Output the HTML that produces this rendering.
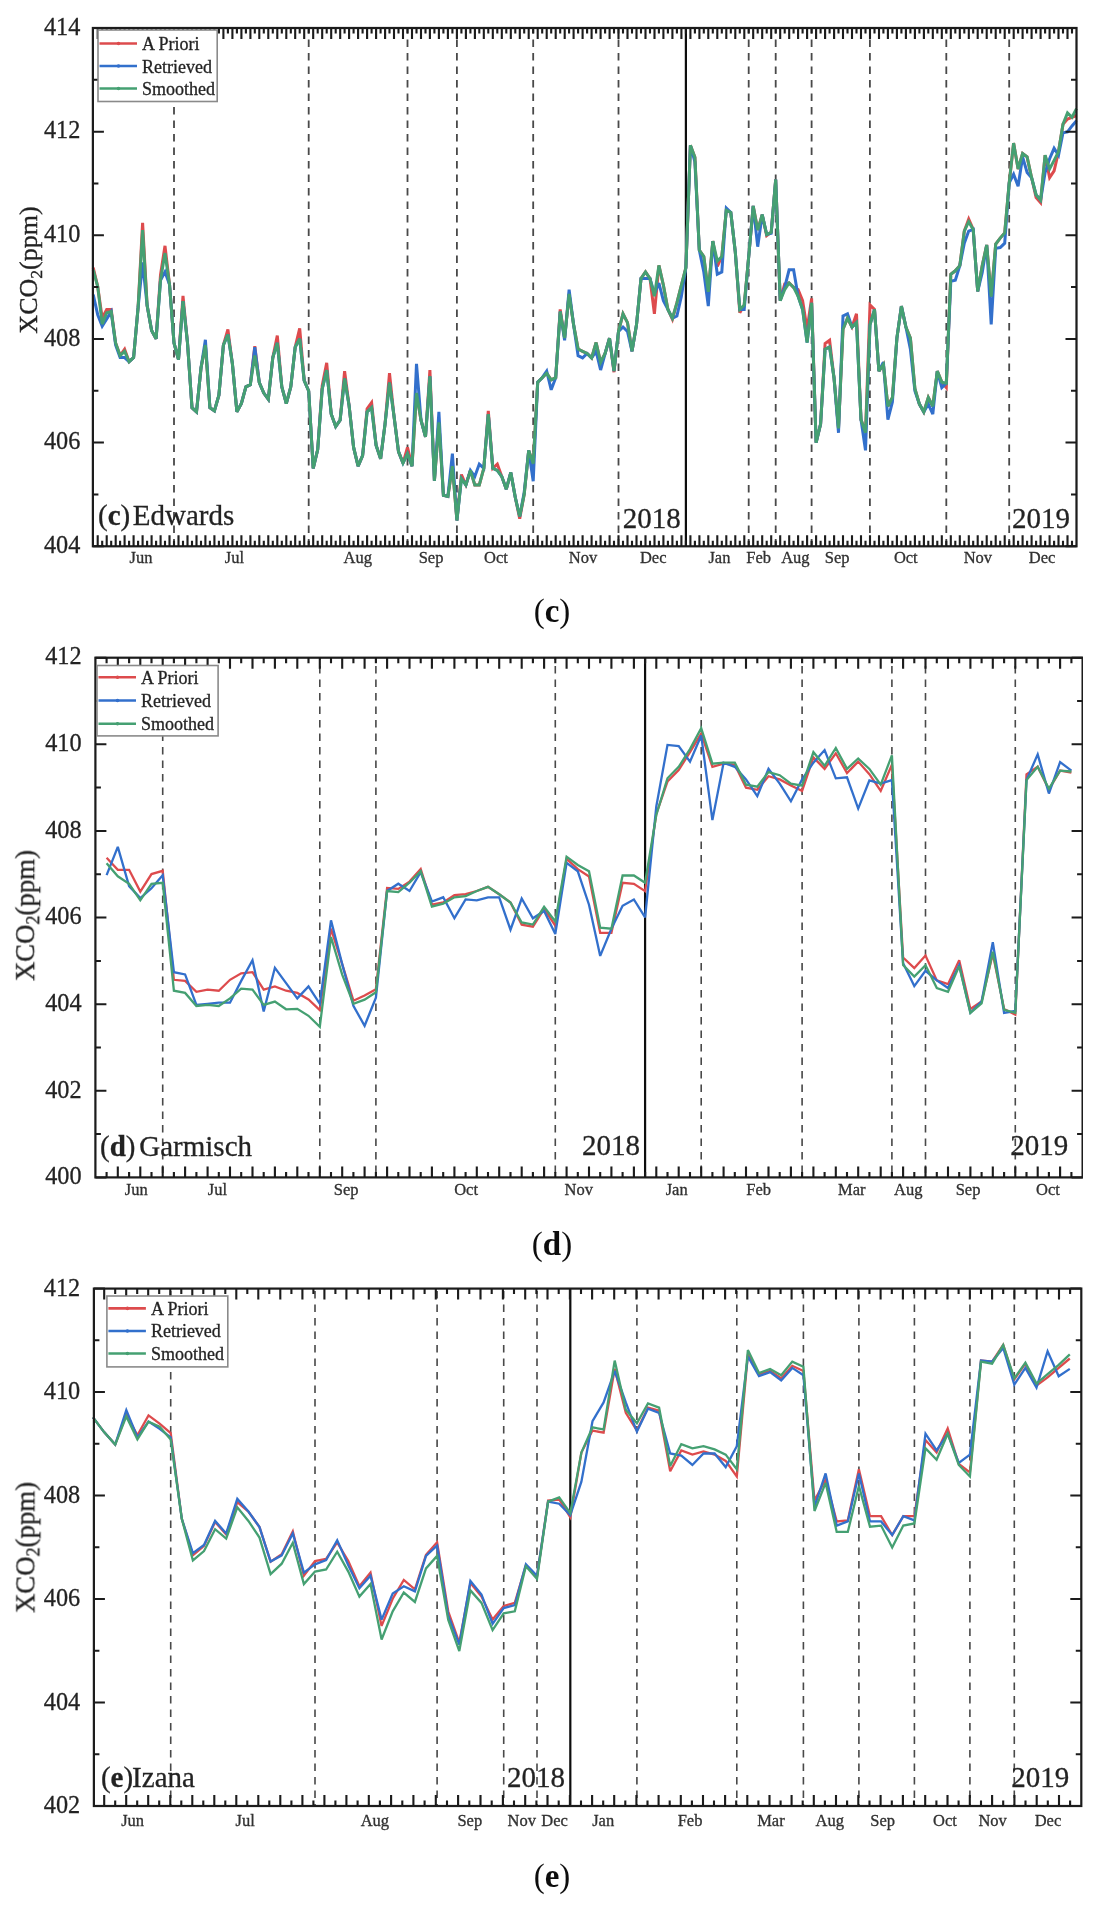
<!DOCTYPE html>
<html><head><meta charset="utf-8"><style>
html,body{margin:0;padding:0;background:#fff;}
svg{display:block;}
text{font-family:"Liberation Serif", serif;}
.b{stroke:#2a2a2a;stroke-width:0.3px;}
</style></head><body>
<svg width="1101" height="1907" viewBox="0 0 1101 1907">
<defs><filter id="soft" x="0" y="0" width="100%" height="100%"><feGaussianBlur stdDeviation="0.45"/></filter></defs>
<rect width="1101" height="1907" fill="#fff"/>
<g filter="url(#soft)">
<line x1="174.0" y1="28" x2="174.0" y2="546.3" stroke="#484848" stroke-width="1.8" stroke-dasharray="7.5 6" stroke-dashoffset="2.05"/>
<line x1="308.7" y1="28" x2="308.7" y2="546.3" stroke="#484848" stroke-width="1.8" stroke-dasharray="7.5 6" stroke-dashoffset="2.05"/>
<line x1="407.5" y1="28" x2="407.5" y2="546.3" stroke="#484848" stroke-width="1.8" stroke-dasharray="7.5 6" stroke-dashoffset="2.05"/>
<line x1="456.9" y1="28" x2="456.9" y2="546.3" stroke="#484848" stroke-width="1.8" stroke-dasharray="7.5 6" stroke-dashoffset="2.05"/>
<line x1="533.2" y1="28" x2="533.2" y2="546.3" stroke="#484848" stroke-width="1.8" stroke-dasharray="7.5 6" stroke-dashoffset="2.05"/>
<line x1="618.5" y1="28" x2="618.5" y2="546.3" stroke="#484848" stroke-width="1.8" stroke-dasharray="7.5 6" stroke-dashoffset="2.05"/>
<line x1="748.7" y1="28" x2="748.7" y2="546.3" stroke="#484848" stroke-width="1.8" stroke-dasharray="7.5 6" stroke-dashoffset="2.05"/>
<line x1="775.7" y1="28" x2="775.7" y2="546.3" stroke="#484848" stroke-width="1.8" stroke-dasharray="7.5 6" stroke-dashoffset="2.05"/>
<line x1="811.6" y1="28" x2="811.6" y2="546.3" stroke="#484848" stroke-width="1.8" stroke-dasharray="7.5 6" stroke-dashoffset="2.05"/>
<line x1="869.9" y1="28" x2="869.9" y2="546.3" stroke="#484848" stroke-width="1.8" stroke-dasharray="7.5 6" stroke-dashoffset="2.05"/>
<line x1="946.3" y1="28" x2="946.3" y2="546.3" stroke="#484848" stroke-width="1.8" stroke-dasharray="7.5 6" stroke-dashoffset="2.05"/>
<line x1="1009.2" y1="28" x2="1009.2" y2="546.3" stroke="#484848" stroke-width="1.8" stroke-dasharray="7.5 6" stroke-dashoffset="2.05"/>
<line x1="685.9" y1="28" x2="685.9" y2="546.3" stroke="#111" stroke-width="2.2"/>
<path d="M93.2,267.7 L97.7,286.5 L102.2,317.9 L106.7,309.5 L111.2,309.5 L115.6,342.9 L120.1,355.5 L124.6,349.2 L129.1,361.7 L133.6,357.6 L138.1,307.4 L142.6,222.8 L147.1,305.3 L151.6,330.4 L156.1,338.8 L160.5,275.0 L165.0,245.8 L169.5,284.4 L174.0,342.9 L178.5,359.7 L183.0,295.9 L187.5,342.9 L192.0,407.7 L196.5,411.9 L201.0,368.0 L205.4,345.0 L209.9,407.7 L214.4,410.8 L218.9,395.2 L223.4,345.0 L227.9,329.4 L232.4,363.8 L236.9,411.9 L241.4,403.5 L245.9,386.8 L250.3,384.7 L254.8,346.1 L259.3,382.6 L263.8,393.1 L268.3,399.3 L272.8,357.6 L277.3,335.6 L281.8,386.8 L286.3,403.5 L290.8,386.8 L295.2,347.1 L299.7,328.3 L304.2,380.5 L308.7,391.0 L313.2,468.3 L317.7,449.5 L322.2,385.8 L326.7,362.8 L331.2,414.0 L335.7,426.5 L340.1,420.2 L344.6,371.1 L349.1,405.6 L353.6,447.4 L358.1,466.2 L362.6,455.7 L367.1,408.7 L371.6,402.5 L376.1,445.3 L380.6,458.9 L385.0,424.4 L389.5,373.2 L394.0,416.1 L398.5,451.6 L403.0,463.1 L407.5,447.4 L412.0,466.2 L416.5,393.1 L421.0,420.2 L425.5,436.9 L429.9,370.1 L434.4,480.8 L438.9,422.3 L443.4,495.4 L447.9,496.5 L452.4,466.2 L456.9,520.5 L461.4,474.5 L465.9,485.0 L470.4,470.4 L474.8,485.0 L479.3,485.0 L483.8,468.3 L488.3,410.8 L492.8,468.3 L497.3,464.1 L501.8,476.6 L506.3,489.2 L510.8,472.5 L515.3,497.5 L519.7,518.7 L524.2,494.4 L528.7,450.4 L533.2,463.6 L537.7,382.1 L542.2,377.7 L546.7,373.3 L551.2,379.9 L555.7,377.7 L560.2,309.4 L564.6,338.1 L569.1,294.0 L573.6,324.8 L578.1,349.1 L582.6,351.3 L587.1,353.5 L591.6,357.9 L596.1,342.5 L600.6,362.3 L605.1,353.5 L609.5,338.1 L614.0,372.2 L618.5,331.5 L623.0,313.8 L627.5,322.6 L632.0,351.3 L636.5,324.8 L641.0,278.6 L645.5,272.0 L650.0,278.6 L654.4,313.8 L658.9,265.4 L663.4,285.2 L667.9,309.4 L672.4,319.3 L676.9,302.8 L681.4,285.2 L685.9,267.6 L690.4,145.3 L694.9,157.4 L699.3,250.0 L703.8,256.6 L708.3,291.8 L712.8,241.1 L717.3,266.5 L721.8,256.6 L726.3,210.3 L730.8,212.5 L735.3,252.2 L739.8,312.7 L744.2,305.0 L748.7,256.6 L753.2,205.9 L757.7,230.1 L762.2,214.7 L766.7,235.6 L771.2,232.3 L775.7,179.5 L780.2,300.6 L784.7,284.1 L789.1,283.0 L793.6,287.4 L798.1,289.6 L802.6,300.6 L807.1,329.3 L811.6,298.4 L816.1,442.7 L820.6,424.0 L825.1,343.6 L829.6,340.3 L834.0,377.7 L838.5,428.4 L843.0,329.3 L847.5,318.2 L852.0,327.0 L856.5,313.8 L861.0,419.6 L865.5,432.8 L870.0,305.0 L874.5,309.4 L878.9,371.1 L883.4,364.5 L887.9,406.3 L892.4,397.5 L896.9,338.1 L901.4,306.1 L905.9,327.0 L910.4,338.1 L914.9,388.7 L919.4,404.1 L923.8,411.9 L928.3,397.5 L932.8,406.3 L937.3,371.1 L941.8,382.1 L946.3,387.6 L950.8,274.3 L955.3,270.8 L959.8,265.7 L964.3,231.1 L968.7,219.1 L973.2,229.4 L977.7,291.5 L982.2,265.7 L986.7,245.0 L991.2,296.7 L995.7,244.1 L1000.2,238.1 L1004.7,232.9 L1009.2,182.8 L1013.6,143.1 L1018.1,169.0 L1022.6,153.5 L1027.1,156.9 L1031.6,177.7 L1036.1,197.5 L1040.6,202.7 L1045.1,155.2 L1049.6,177.7 L1054.1,170.8 L1058.5,151.8 L1063.0,124.2 L1067.5,119.0 L1072.0,117.3 L1076.5,115.5" fill="none" stroke="#dd4c4e" stroke-width="3.0" stroke-linejoin="miter" stroke-miterlimit="3"/>
<path d="M93.2,294.5 L97.7,314.7 L102.2,326.2 L106.7,318.9 L111.2,311.6 L115.6,345.0 L120.1,357.6 L124.6,357.6 L129.1,361.7 L133.6,357.6 L138.1,307.4 L142.6,262.5 L147.1,305.3 L151.6,330.4 L156.1,338.8 L160.5,280.3 L165.0,271.9 L169.5,284.4 L174.0,342.9 L178.5,359.7 L183.0,301.2 L187.5,342.9 L192.0,407.7 L196.5,411.9 L201.0,368.0 L205.4,339.8 L209.9,407.7 L214.4,410.8 L218.9,395.2 L223.4,345.0 L227.9,334.6 L232.4,363.8 L236.9,411.9 L241.4,403.5 L245.9,386.8 L250.3,384.7 L254.8,347.1 L259.3,382.6 L263.8,393.1 L268.3,399.3 L272.8,357.6 L277.3,342.9 L281.8,386.8 L286.3,403.5 L290.8,386.8 L295.2,347.1 L299.7,338.8 L304.2,380.5 L308.7,391.0 L313.2,468.3 L317.7,449.5 L322.2,388.9 L326.7,370.1 L331.2,414.0 L335.7,426.5 L340.1,420.2 L344.6,378.5 L349.1,405.6 L353.6,447.4 L358.1,466.2 L362.6,455.7 L367.1,411.9 L371.6,407.7 L376.1,445.3 L380.6,458.9 L385.0,424.4 L389.5,382.6 L394.0,416.1 L398.5,451.6 L403.0,463.1 L407.5,453.7 L412.0,466.2 L416.5,363.8 L421.0,420.2 L425.5,436.9 L429.9,376.4 L434.4,480.8 L438.9,411.9 L443.4,495.4 L447.9,496.5 L452.4,453.7 L456.9,520.5 L461.4,478.7 L465.9,485.0 L470.4,470.4 L474.8,476.6 L479.3,464.1 L483.8,468.3 L488.3,414.0 L492.8,468.3 L497.3,470.4 L501.8,476.6 L506.3,489.2 L510.8,472.5 L515.3,497.5 L519.7,516.5 L524.2,492.2 L528.7,450.4 L533.2,481.2 L537.7,382.1 L542.2,377.7 L546.7,371.1 L551.2,389.8 L555.7,377.7 L560.2,311.6 L564.6,340.3 L569.1,289.6 L573.6,324.8 L578.1,355.7 L582.6,357.9 L587.1,353.5 L591.6,357.9 L596.1,351.3 L600.6,370.0 L605.1,353.5 L609.5,338.1 L614.0,371.1 L618.5,331.5 L623.0,327.0 L627.5,331.5 L632.0,351.3 L636.5,324.8 L641.0,278.6 L645.5,278.6 L650.0,278.6 L654.4,294.0 L658.9,283.0 L663.4,300.6 L667.9,309.4 L672.4,318.2 L676.9,316.0 L681.4,296.2 L685.9,267.6 L690.4,145.3 L694.9,161.9 L699.3,250.0 L703.8,272.0 L708.3,306.1 L712.8,241.1 L717.3,274.2 L721.8,272.0 L726.3,208.1 L730.8,212.5 L735.3,252.2 L739.8,309.4 L744.2,309.4 L748.7,256.6 L753.2,205.9 L757.7,246.7 L762.2,214.7 L766.7,234.5 L771.2,233.4 L775.7,179.5 L780.2,300.6 L784.7,287.4 L789.1,269.8 L793.6,269.8 L798.1,296.2 L802.6,309.4 L807.1,342.5 L811.6,302.8 L816.1,442.7 L820.6,424.0 L825.1,349.1 L829.6,346.9 L834.0,377.7 L838.5,432.8 L843.0,316.0 L847.5,313.8 L852.0,327.0 L856.5,322.6 L861.0,419.6 L865.5,450.4 L870.0,324.8 L874.5,309.4 L878.9,371.1 L883.4,362.3 L887.9,419.6 L892.4,401.9 L896.9,338.1 L901.4,306.1 L905.9,327.0 L910.4,349.1 L914.9,390.9 L919.4,404.1 L923.8,411.9 L928.3,404.1 L932.8,414.1 L937.3,371.1 L941.8,387.6 L946.3,383.2 L950.8,281.2 L955.3,280.3 L959.8,265.7 L964.3,243.2 L968.7,231.1 L973.2,229.4 L977.7,291.5 L982.2,272.6 L986.7,245.0 L991.2,324.3 L995.7,248.4 L1000.2,247.5 L1004.7,243.2 L1009.2,182.8 L1013.6,174.2 L1018.1,186.3 L1022.6,156.9 L1027.1,172.5 L1031.6,177.7 L1036.1,194.9 L1040.6,200.1 L1045.1,172.5 L1049.6,158.7 L1054.1,148.3 L1058.5,155.2 L1063.0,132.8 L1067.5,131.9 L1072.0,125.9 L1076.5,120.7" fill="none" stroke="#336fcc" stroke-width="3.0" stroke-linejoin="miter" stroke-miterlimit="3"/>
<path d="M93.2,269.8 L97.7,286.5 L102.2,324.1 L106.7,312.7 L111.2,311.6 L115.6,342.9 L120.1,355.5 L124.6,351.3 L129.1,361.7 L133.6,357.6 L138.1,307.4 L142.6,230.1 L147.1,305.3 L151.6,330.4 L156.1,338.8 L160.5,280.3 L165.0,253.1 L169.5,284.4 L174.0,342.9 L178.5,359.7 L183.0,301.2 L187.5,342.9 L192.0,407.7 L196.5,411.9 L201.0,368.0 L205.4,345.0 L209.9,407.7 L214.4,410.8 L218.9,395.2 L223.4,345.0 L227.9,334.6 L232.4,363.8 L236.9,411.9 L241.4,403.5 L245.9,386.8 L250.3,384.7 L254.8,355.5 L259.3,382.6 L263.8,393.1 L268.3,399.3 L272.8,357.6 L277.3,342.9 L281.8,386.8 L286.3,403.5 L290.8,386.8 L295.2,347.1 L299.7,338.8 L304.2,380.5 L308.7,391.0 L313.2,468.3 L317.7,449.5 L322.2,388.9 L326.7,370.1 L331.2,414.0 L335.7,426.5 L340.1,420.2 L344.6,378.5 L349.1,405.6 L353.6,447.4 L358.1,466.2 L362.6,455.7 L367.1,411.9 L371.6,407.7 L376.1,445.3 L380.6,458.9 L385.0,424.4 L389.5,382.6 L394.0,416.1 L398.5,451.6 L403.0,463.1 L407.5,453.7 L412.0,466.2 L416.5,393.1 L421.0,420.2 L425.5,436.9 L429.9,376.4 L434.4,480.8 L438.9,422.3 L443.4,495.4 L447.9,496.5 L452.4,466.2 L456.9,520.5 L461.4,478.7 L465.9,485.0 L470.4,470.4 L474.8,485.0 L479.3,485.0 L483.8,468.3 L488.3,414.0 L492.8,468.3 L497.3,470.4 L501.8,476.6 L506.3,489.2 L510.8,472.5 L515.3,497.5 L519.7,516.5 L524.2,494.4 L528.7,450.4 L533.2,463.6 L537.7,382.1 L542.2,377.7 L546.7,373.3 L551.2,379.9 L555.7,377.7 L560.2,311.6 L564.6,338.1 L569.1,294.0 L573.6,324.8 L578.1,349.1 L582.6,351.3 L587.1,353.5 L591.6,357.9 L596.1,342.5 L600.6,362.3 L605.1,353.5 L609.5,338.1 L614.0,371.1 L618.5,331.5 L623.0,313.8 L627.5,322.6 L632.0,351.3 L636.5,324.8 L641.0,278.6 L645.5,272.0 L650.0,278.6 L654.4,296.2 L658.9,265.4 L663.4,285.2 L667.9,309.4 L672.4,318.2 L676.9,302.8 L681.4,285.2 L685.9,267.6 L690.4,145.3 L694.9,157.4 L699.3,250.0 L703.8,256.6 L708.3,291.8 L712.8,241.1 L717.3,261.0 L721.8,256.6 L726.3,210.3 L730.8,212.5 L735.3,252.2 L739.8,309.4 L744.2,305.0 L748.7,256.6 L753.2,205.9 L757.7,230.1 L762.2,214.7 L766.7,234.5 L771.2,232.3 L775.7,179.5 L780.2,300.6 L784.7,289.6 L789.1,283.0 L793.6,287.4 L798.1,296.2 L802.6,309.4 L807.1,342.5 L811.6,302.8 L816.1,442.7 L820.6,424.0 L825.1,349.1 L829.6,346.9 L834.0,377.7 L838.5,428.4 L843.0,329.3 L847.5,318.2 L852.0,327.0 L856.5,322.6 L861.0,419.6 L865.5,432.8 L870.0,324.8 L874.5,309.4 L878.9,371.1 L883.4,364.5 L887.9,406.3 L892.4,397.5 L896.9,338.1 L901.4,306.1 L905.9,327.0 L910.4,338.1 L914.9,388.7 L919.4,404.1 L923.8,411.9 L928.3,397.5 L932.8,406.3 L937.3,371.1 L941.8,382.1 L946.3,383.2 L950.8,274.3 L955.3,270.8 L959.8,265.7 L964.3,231.1 L968.7,221.7 L973.2,229.4 L977.7,291.5 L982.2,265.7 L986.7,245.0 L991.2,296.7 L995.7,244.1 L1000.2,238.1 L1004.7,232.9 L1009.2,182.8 L1013.6,143.1 L1018.1,169.0 L1022.6,153.5 L1027.1,156.9 L1031.6,177.7 L1036.1,194.9 L1040.6,200.1 L1045.1,155.2 L1049.6,169.0 L1054.1,160.4 L1058.5,151.8 L1063.0,124.2 L1067.5,112.9 L1072.0,117.3 L1076.5,108.6" fill="none" stroke="#45a072" stroke-width="3.0" stroke-linejoin="miter" stroke-miterlimit="3"/>
<path d="M97.7,546.3 v-11 M97.7,28 v11 M102.2,546.3 v-5.5 M102.2,28 v5.5 M106.7,546.3 v-11 M106.7,28 v11 M111.2,546.3 v-5.5 M111.2,28 v5.5 M115.7,546.3 v-11 M115.7,28 v11 M120.1,546.3 v-5.5 M120.1,28 v5.5 M124.6,546.3 v-11 M124.6,28 v11 M129.1,546.3 v-5.5 M129.1,28 v5.5 M133.6,546.3 v-11 M133.6,28 v11 M138.1,546.3 v-5.5 M138.1,28 v5.5 M142.6,546.3 v-11 M142.6,28 v11 M147.1,546.3 v-5.5 M147.1,28 v5.5 M151.6,546.3 v-11 M151.6,28 v11 M156.1,546.3 v-5.5 M156.1,28 v5.5 M160.6,546.3 v-11 M160.6,28 v11 M165.0,546.3 v-5.5 M165.0,28 v5.5 M169.5,546.3 v-11 M169.5,28 v11 M174.0,546.3 v-5.5 M174.0,28 v5.5 M178.5,546.3 v-11 M178.5,28 v11 M183.0,546.3 v-5.5 M183.0,28 v5.5 M187.5,546.3 v-11 M187.5,28 v11 M192.0,546.3 v-5.5 M192.0,28 v5.5 M196.5,546.3 v-11 M196.5,28 v11 M201.0,546.3 v-5.5 M201.0,28 v5.5 M205.4,546.3 v-11 M205.4,28 v11 M209.9,546.3 v-5.5 M209.9,28 v5.5 M214.4,546.3 v-11 M214.4,28 v11 M218.9,546.3 v-5.5 M218.9,28 v5.5 M223.4,546.3 v-11 M223.4,28 v11 M227.9,546.3 v-5.5 M227.9,28 v5.5 M232.4,546.3 v-11 M232.4,28 v11 M236.9,546.3 v-5.5 M236.9,28 v5.5 M241.4,546.3 v-11 M241.4,28 v11 M245.9,546.3 v-5.5 M245.9,28 v5.5 M250.4,546.3 v-11 M250.4,28 v11 M254.8,546.3 v-5.5 M254.8,28 v5.5 M259.3,546.3 v-11 M259.3,28 v11 M263.8,546.3 v-5.5 M263.8,28 v5.5 M268.3,546.3 v-11 M268.3,28 v11 M272.8,546.3 v-5.5 M272.8,28 v5.5 M277.3,546.3 v-11 M277.3,28 v11 M281.8,546.3 v-5.5 M281.8,28 v5.5 M286.3,546.3 v-11 M286.3,28 v11 M290.8,546.3 v-5.5 M290.8,28 v5.5 M295.2,546.3 v-11 M295.2,28 v11 M299.7,546.3 v-5.5 M299.7,28 v5.5 M304.2,546.3 v-11 M304.2,28 v11 M308.7,546.3 v-5.5 M308.7,28 v5.5 M313.2,546.3 v-11 M313.2,28 v11 M317.7,546.3 v-5.5 M317.7,28 v5.5 M322.2,546.3 v-11 M322.2,28 v11 M326.7,546.3 v-5.5 M326.7,28 v5.5 M331.2,546.3 v-11 M331.2,28 v11 M335.7,546.3 v-5.5 M335.7,28 v5.5 M340.2,546.3 v-11 M340.2,28 v11 M344.6,546.3 v-5.5 M344.6,28 v5.5 M349.1,546.3 v-11 M349.1,28 v11 M353.6,546.3 v-5.5 M353.6,28 v5.5 M358.1,546.3 v-11 M358.1,28 v11 M362.6,546.3 v-5.5 M362.6,28 v5.5 M367.1,546.3 v-11 M367.1,28 v11 M371.6,546.3 v-5.5 M371.6,28 v5.5 M376.1,546.3 v-11 M376.1,28 v11 M380.6,546.3 v-5.5 M380.6,28 v5.5 M385.1,546.3 v-11 M385.1,28 v11 M389.5,546.3 v-5.5 M389.5,28 v5.5 M394.0,546.3 v-11 M394.0,28 v11 M398.5,546.3 v-5.5 M398.5,28 v5.5 M403.0,546.3 v-11 M403.0,28 v11 M407.5,546.3 v-5.5 M407.5,28 v5.5 M412.0,546.3 v-11 M412.0,28 v11 M416.5,546.3 v-5.5 M416.5,28 v5.5 M421.0,546.3 v-11 M421.0,28 v11 M425.5,546.3 v-5.5 M425.5,28 v5.5 M429.9,546.3 v-11 M429.9,28 v11 M434.4,546.3 v-5.5 M434.4,28 v5.5 M438.9,546.3 v-11 M438.9,28 v11 M443.4,546.3 v-5.5 M443.4,28 v5.5 M447.9,546.3 v-11 M447.9,28 v11 M452.4,546.3 v-5.5 M452.4,28 v5.5 M456.9,546.3 v-11 M456.9,28 v11 M461.4,546.3 v-5.5 M461.4,28 v5.5 M465.9,546.3 v-11 M465.9,28 v11 M470.4,546.3 v-5.5 M470.4,28 v5.5 M474.9,546.3 v-11 M474.9,28 v11 M479.3,546.3 v-5.5 M479.3,28 v5.5 M483.8,546.3 v-11 M483.8,28 v11 M488.3,546.3 v-5.5 M488.3,28 v5.5 M492.8,546.3 v-11 M492.8,28 v11 M497.3,546.3 v-5.5 M497.3,28 v5.5 M501.8,546.3 v-11 M501.8,28 v11 M506.3,546.3 v-5.5 M506.3,28 v5.5 M510.8,546.3 v-11 M510.8,28 v11 M515.3,546.3 v-5.5 M515.3,28 v5.5 M519.8,546.3 v-11 M519.8,28 v11 M524.2,546.3 v-5.5 M524.2,28 v5.5 M528.7,546.3 v-11 M528.7,28 v11 M533.2,546.3 v-5.5 M533.2,28 v5.5 M537.7,546.3 v-11 M537.7,28 v11 M542.2,546.3 v-5.5 M542.2,28 v5.5 M546.7,546.3 v-11 M546.7,28 v11 M551.2,546.3 v-5.5 M551.2,28 v5.5 M555.7,546.3 v-11 M555.7,28 v11 M560.2,546.3 v-5.5 M560.2,28 v5.5 M564.7,546.3 v-11 M564.7,28 v11 M569.1,546.3 v-5.5 M569.1,28 v5.5 M573.6,546.3 v-11 M573.6,28 v11 M578.1,546.3 v-5.5 M578.1,28 v5.5 M582.6,546.3 v-11 M582.6,28 v11 M587.1,546.3 v-5.5 M587.1,28 v5.5 M591.6,546.3 v-11 M591.6,28 v11 M596.1,546.3 v-5.5 M596.1,28 v5.5 M600.6,546.3 v-11 M600.6,28 v11 M605.1,546.3 v-5.5 M605.1,28 v5.5 M609.6,546.3 v-11 M609.6,28 v11 M614.0,546.3 v-5.5 M614.0,28 v5.5 M618.5,546.3 v-11 M618.5,28 v11 M623.0,546.3 v-5.5 M623.0,28 v5.5 M627.5,546.3 v-11 M627.5,28 v11 M632.0,546.3 v-5.5 M632.0,28 v5.5 M636.5,546.3 v-11 M636.5,28 v11 M641.0,546.3 v-5.5 M641.0,28 v5.5 M645.5,546.3 v-11 M645.5,28 v11 M650.0,546.3 v-5.5 M650.0,28 v5.5 M654.5,546.3 v-11 M654.5,28 v11 M658.9,546.3 v-5.5 M658.9,28 v5.5 M663.4,546.3 v-11 M663.4,28 v11 M667.9,546.3 v-5.5 M667.9,28 v5.5 M672.4,546.3 v-11 M672.4,28 v11 M676.9,546.3 v-5.5 M676.9,28 v5.5 M681.4,546.3 v-11 M681.4,28 v11 M685.9,546.3 v-5.5 M685.9,28 v5.5 M690.4,546.3 v-11 M690.4,28 v11 M694.9,546.3 v-5.5 M694.9,28 v5.5 M699.4,546.3 v-11 M699.4,28 v11 M703.8,546.3 v-5.5 M703.8,28 v5.5 M708.3,546.3 v-11 M708.3,28 v11 M712.8,546.3 v-5.5 M712.8,28 v5.5 M717.3,546.3 v-11 M717.3,28 v11 M721.8,546.3 v-5.5 M721.8,28 v5.5 M726.3,546.3 v-11 M726.3,28 v11 M730.8,546.3 v-5.5 M730.8,28 v5.5 M735.3,546.3 v-11 M735.3,28 v11 M739.8,546.3 v-5.5 M739.8,28 v5.5 M744.3,546.3 v-11 M744.3,28 v11 M748.7,546.3 v-5.5 M748.7,28 v5.5 M753.2,546.3 v-11 M753.2,28 v11 M757.7,546.3 v-5.5 M757.7,28 v5.5 M762.2,546.3 v-11 M762.2,28 v11 M766.7,546.3 v-5.5 M766.7,28 v5.5 M771.2,546.3 v-11 M771.2,28 v11 M775.7,546.3 v-5.5 M775.7,28 v5.5 M780.2,546.3 v-11 M780.2,28 v11 M784.7,546.3 v-5.5 M784.7,28 v5.5 M789.2,546.3 v-11 M789.2,28 v11 M793.6,546.3 v-5.5 M793.6,28 v5.5 M798.1,546.3 v-11 M798.1,28 v11 M802.6,546.3 v-5.5 M802.6,28 v5.5 M807.1,546.3 v-11 M807.1,28 v11 M811.6,546.3 v-5.5 M811.6,28 v5.5 M816.1,546.3 v-11 M816.1,28 v11 M820.6,546.3 v-5.5 M820.6,28 v5.5 M825.1,546.3 v-11 M825.1,28 v11 M829.6,546.3 v-5.5 M829.6,28 v5.5 M834.1,546.3 v-11 M834.1,28 v11 M838.5,546.3 v-5.5 M838.5,28 v5.5 M843.0,546.3 v-11 M843.0,28 v11 M847.5,546.3 v-5.5 M847.5,28 v5.5 M852.0,546.3 v-11 M852.0,28 v11 M856.5,546.3 v-5.5 M856.5,28 v5.5 M861.0,546.3 v-11 M861.0,28 v11 M865.5,546.3 v-5.5 M865.5,28 v5.5 M870.0,546.3 v-11 M870.0,28 v11 M874.5,546.3 v-5.5 M874.5,28 v5.5 M879.0,546.3 v-11 M879.0,28 v11 M883.4,546.3 v-5.5 M883.4,28 v5.5 M887.9,546.3 v-11 M887.9,28 v11 M892.4,546.3 v-5.5 M892.4,28 v5.5 M896.9,546.3 v-11 M896.9,28 v11 M901.4,546.3 v-5.5 M901.4,28 v5.5 M905.9,546.3 v-11 M905.9,28 v11 M910.4,546.3 v-5.5 M910.4,28 v5.5 M914.9,546.3 v-11 M914.9,28 v11 M919.4,546.3 v-5.5 M919.4,28 v5.5 M923.9,546.3 v-11 M923.9,28 v11 M928.3,546.3 v-5.5 M928.3,28 v5.5 M932.8,546.3 v-11 M932.8,28 v11 M937.3,546.3 v-5.5 M937.3,28 v5.5 M941.8,546.3 v-11 M941.8,28 v11 M946.3,546.3 v-5.5 M946.3,28 v5.5 M950.8,546.3 v-11 M950.8,28 v11 M955.3,546.3 v-5.5 M955.3,28 v5.5 M959.8,546.3 v-11 M959.8,28 v11 M964.3,546.3 v-5.5 M964.3,28 v5.5 M968.8,546.3 v-11 M968.8,28 v11 M973.2,546.3 v-5.5 M973.2,28 v5.5 M977.7,546.3 v-11 M977.7,28 v11 M982.2,546.3 v-5.5 M982.2,28 v5.5 M986.7,546.3 v-11 M986.7,28 v11 M991.2,546.3 v-5.5 M991.2,28 v5.5 M995.7,546.3 v-11 M995.7,28 v11 M1000.2,546.3 v-5.5 M1000.2,28 v5.5 M1004.7,546.3 v-11 M1004.7,28 v11 M1009.2,546.3 v-5.5 M1009.2,28 v5.5 M1013.7,546.3 v-11 M1013.7,28 v11 M1018.1,546.3 v-5.5 M1018.1,28 v5.5 M1022.6,546.3 v-11 M1022.6,28 v11 M1027.1,546.3 v-5.5 M1027.1,28 v5.5 M1031.6,546.3 v-11 M1031.6,28 v11 M1036.1,546.3 v-5.5 M1036.1,28 v5.5 M1040.6,546.3 v-11 M1040.6,28 v11 M1045.1,546.3 v-5.5 M1045.1,28 v5.5 M1049.6,546.3 v-11 M1049.6,28 v11 M1054.1,546.3 v-5.5 M1054.1,28 v5.5 M1058.5,546.3 v-11 M1058.5,28 v11 M1063.0,546.3 v-5.5 M1063.0,28 v5.5 M1067.5,546.3 v-11 M1067.5,28 v11 M1072.0,546.3 v-5.5 M1072.0,28 v5.5" stroke="#1a1a1a" stroke-width="2.1" fill="none"/>
<path d="M92.9,546.3 h11 M1076.5,546.3 h-11 M92.9,494.5 h5.5 M1076.5,494.5 h-5.5 M92.9,442.6 h11 M1076.5,442.6 h-11 M92.9,390.8 h5.5 M1076.5,390.8 h-5.5 M92.9,339.0 h11 M1076.5,339.0 h-11 M92.9,287.1 h5.5 M1076.5,287.1 h-5.5 M92.9,235.3 h11 M1076.5,235.3 h-11 M92.9,183.5 h5.5 M1076.5,183.5 h-5.5 M92.9,131.7 h11 M1076.5,131.7 h-11 M92.9,79.8 h5.5 M1076.5,79.8 h-5.5 M92.9,28.0 h11 M1076.5,28.0 h-11" stroke="#1a1a1a" stroke-width="2" fill="none"/>
<rect x="92.9" y="28" width="983.6" height="518.3" fill="none" stroke="#1a1a1a" stroke-width="2.2"/>
<text transform="translate(80.3,552.9) scale(0.96,1)" text-anchor="end" font-size="25.3" fill="#222" class="b">404</text>
<text transform="translate(80.3,449.2) scale(0.96,1)" text-anchor="end" font-size="25.3" fill="#222" class="b">406</text>
<text transform="translate(80.3,345.6) scale(0.96,1)" text-anchor="end" font-size="25.3" fill="#222" class="b">408</text>
<text transform="translate(80.3,241.9) scale(0.96,1)" text-anchor="end" font-size="25.3" fill="#222" class="b">410</text>
<text transform="translate(80.3,138.3) scale(0.96,1)" text-anchor="end" font-size="25.3" fill="#222" class="b">412</text>
<text transform="translate(80.3,34.6) scale(0.96,1)" text-anchor="end" font-size="25.3" fill="#222" class="b">414</text>
<text transform="translate(37,270) rotate(-90)" text-anchor="middle" font-size="26" fill="#222" class="b">XCO<tspan font-size="17.7" dy="5">2</tspan><tspan dy="-5">(ppm)</tspan></text>
<text x="141" y="562.5" text-anchor="middle" font-size="16.5" fill="#333" class="b">Jun</text>
<text x="234.5" y="562.5" text-anchor="middle" font-size="16.5" fill="#333" class="b">Jul</text>
<text x="357.7" y="562.5" text-anchor="middle" font-size="16.5" fill="#333" class="b">Aug</text>
<text x="431" y="562.5" text-anchor="middle" font-size="16.5" fill="#333" class="b">Sep</text>
<text x="496" y="562.5" text-anchor="middle" font-size="16.5" fill="#333" class="b">Oct</text>
<text x="583" y="562.5" text-anchor="middle" font-size="16.5" fill="#333" class="b">Nov</text>
<text x="653.2" y="562.5" text-anchor="middle" font-size="16.5" fill="#333" class="b">Dec</text>
<text x="719.4" y="562.5" text-anchor="middle" font-size="16.5" fill="#333" class="b">Jan</text>
<text x="758.6" y="562.5" text-anchor="middle" font-size="16.5" fill="#333" class="b">Feb</text>
<text x="795.4" y="562.5" text-anchor="middle" font-size="16.5" fill="#333" class="b">Aug</text>
<text x="837.1" y="562.5" text-anchor="middle" font-size="16.5" fill="#333" class="b">Sep</text>
<text x="905.8" y="562.5" text-anchor="middle" font-size="16.5" fill="#333" class="b">Oct</text>
<text x="977.9" y="562.5" text-anchor="middle" font-size="16.5" fill="#333" class="b">Nov</text>
<text x="1042.1" y="562.5" text-anchor="middle" font-size="16.5" fill="#333" class="b">Dec</text>
<text x="622.8" y="527.8" font-size="29" fill="#222" class="b">2018</text>
<text x="1011.9" y="527.8" font-size="29" fill="#222" class="b">2019</text>
<text x="98" y="525" font-size="29" fill="#222" class="b">(<tspan font-weight="bold">c</tspan>)<tspan dx="2.5">Edwards</tspan></text>
<rect x="98" y="30" width="119.2" height="71.5" fill="#fff" stroke="#8a8a8a" stroke-width="1.6"/>
<line x1="99.5" y1="43.5" x2="137" y2="43.5" stroke="#dd4c4e" stroke-width="2.6"/>
<circle cx="118.5" cy="43.5" r="1.8" fill="#dd4c4e"/>
<text x="142" y="50.0" font-size="18" fill="#222" class="b">A Priori</text>
<line x1="99.5" y1="66.0" x2="137" y2="66.0" stroke="#336fcc" stroke-width="2.6"/>
<circle cx="118.5" cy="66.0" r="1.8" fill="#336fcc"/>
<text x="142" y="72.5" font-size="18" fill="#222" class="b">Retrieved</text>
<line x1="99.5" y1="88.5" x2="137" y2="88.5" stroke="#45a072" stroke-width="2.6"/>
<circle cx="118.5" cy="88.5" r="1.8" fill="#45a072"/>
<text x="142" y="95.0" font-size="18" fill="#222" class="b">Smoothed</text>
<text x="552" y="622" text-anchor="middle" font-size="33" fill="#111">(<tspan font-weight="bold">c</tspan>)</text>
<line x1="162.7" y1="657.7" x2="162.7" y2="1177.4" stroke="#484848" stroke-width="1.6" stroke-dasharray="7.5 6" stroke-dashoffset="5.1"/>
<line x1="319.8" y1="657.7" x2="319.8" y2="1177.4" stroke="#484848" stroke-width="1.6" stroke-dasharray="7.5 6" stroke-dashoffset="5.1"/>
<line x1="375.9" y1="657.7" x2="375.9" y2="1177.4" stroke="#484848" stroke-width="1.6" stroke-dasharray="7.5 6" stroke-dashoffset="5.1"/>
<line x1="555.3" y1="657.7" x2="555.3" y2="1177.4" stroke="#484848" stroke-width="1.6" stroke-dasharray="7.5 6" stroke-dashoffset="5.1"/>
<line x1="701.2" y1="657.7" x2="701.2" y2="1177.4" stroke="#484848" stroke-width="1.6" stroke-dasharray="7.5 6" stroke-dashoffset="5.1"/>
<line x1="802.1" y1="657.7" x2="802.1" y2="1177.4" stroke="#484848" stroke-width="1.6" stroke-dasharray="7.5 6" stroke-dashoffset="5.1"/>
<line x1="891.9" y1="657.7" x2="891.9" y2="1177.4" stroke="#484848" stroke-width="1.6" stroke-dasharray="7.5 6" stroke-dashoffset="5.1"/>
<line x1="925.5" y1="657.7" x2="925.5" y2="1177.4" stroke="#484848" stroke-width="1.6" stroke-dasharray="7.5 6" stroke-dashoffset="5.1"/>
<line x1="1015.3" y1="657.7" x2="1015.3" y2="1177.4" stroke="#484848" stroke-width="1.6" stroke-dasharray="7.5 6" stroke-dashoffset="5.1"/>
<line x1="645.082" y1="657.7" x2="645.082" y2="1177.4" stroke="#111" stroke-width="2.2"/>
<path d="M106.6,857.8 L117.8,869.8 L129.1,869.8 L140.3,891.6 L151.5,874.1 L162.7,870.8 L173.9,979.8 L185.1,980.9 L196.4,991.8 L207.6,989.6 L218.8,990.7 L230.0,979.8 L241.2,973.3 L252.5,972.2 L263.7,989.6 L274.9,986.4 L286.1,990.7 L297.3,992.9 L308.5,999.5 L319.8,1010.1 L331.0,928.6 L342.2,964.1 L353.4,1000.7 L364.6,995.5 L375.9,989.2 L387.1,887.9 L398.3,888.9 L409.5,881.6 L420.7,869.1 L431.9,904.6 L443.2,902.5 L454.4,895.2 L465.6,894.2 L476.8,891.0 L488.0,886.8 L499.2,894.2 L510.5,902.5 L521.7,924.6 L532.9,926.7 L544.1,908.9 L555.3,925.6 L566.6,858.8 L577.8,869.2 L589.0,876.5 L600.2,932.9 L611.4,932.9 L622.6,882.8 L633.9,883.8 L645.1,891.1 L656.3,813.9 L667.5,781.5 L678.7,770.0 L690.0,752.2 L701.2,733.4 L712.4,766.8 L723.6,763.7 L734.8,764.8 L746.0,787.7 L757.3,789.8 L768.5,776.2 L779.7,779.4 L790.9,785.6 L802.1,790.9 L813.4,757.4 L824.6,768.9 L835.8,753.3 L847.0,773.1 L858.2,761.6 L869.4,774.2 L880.7,790.9 L891.9,764.8 L903.1,957.5 L914.3,968.0 L925.5,955.6 L936.8,980.4 L948.0,984.2 L959.2,960.3 L970.4,1009.0 L981.6,1001.4 L992.8,953.7 L1004.1,1009.0 L1015.3,1014.7 L1026.5,774.4 L1037.7,766.8 L1048.9,789.6 L1060.1,770.6 L1071.4,772.5" fill="none" stroke="#dd4c4e" stroke-width="2.3" stroke-linejoin="miter" stroke-miterlimit="3"/>
<path d="M106.6,875.2 L117.8,846.9 L129.1,886.1 L140.3,898.1 L151.5,888.3 L162.7,875.2 L173.9,972.2 L185.1,974.4 L196.4,1004.9 L207.6,1003.8 L218.8,1002.7 L230.0,1002.7 L241.2,980.9 L252.5,960.2 L263.7,1011.4 L274.9,967.8 L286.1,983.1 L297.3,998.4 L308.5,986.4 L319.8,1003.8 L331.0,920.3 L342.2,964.1 L353.4,1005.9 L364.6,1025.8 L375.9,997.6 L387.1,891.0 L398.3,883.7 L409.5,891.0 L420.7,872.2 L431.9,901.5 L443.2,897.3 L454.4,918.2 L465.6,899.4 L476.8,900.4 L488.0,897.3 L499.2,897.3 L510.5,929.7 L521.7,898.5 L532.9,918.3 L544.1,911.0 L555.3,934.0 L566.6,862.9 L577.8,871.3 L589.0,904.7 L600.2,955.9 L611.4,928.7 L622.6,905.8 L633.9,899.5 L645.1,917.3 L656.3,806.5 L667.5,744.9 L678.7,746.0 L690.0,761.6 L701.2,735.5 L712.4,820.1 L723.6,762.7 L734.8,766.8 L746.0,779.4 L757.3,796.1 L768.5,768.9 L779.7,783.6 L790.9,801.3 L802.1,779.4 L813.4,762.7 L824.6,750.1 L835.8,778.3 L847.0,777.3 L858.2,808.6 L869.4,780.4 L880.7,783.6 L891.9,780.1 L903.1,963.2 L914.3,986.1 L925.5,970.8 L936.8,980.4 L948.0,988.0 L959.2,965.1 L970.4,1012.8 L981.6,1001.4 L992.8,942.2 L1004.1,1012.8 L1015.3,1010.9 L1026.5,780.1 L1037.7,754.4 L1048.9,793.5 L1060.1,762.0 L1071.4,770.6" fill="none" stroke="#336fcc" stroke-width="2.3" stroke-linejoin="miter" stroke-miterlimit="3"/>
<path d="M106.6,863.2 L117.8,876.3 L129.1,883.9 L140.3,900.3 L151.5,883.9 L162.7,882.8 L173.9,990.7 L185.1,992.9 L196.4,1006.0 L207.6,1004.9 L218.8,1006.0 L230.0,998.4 L241.2,988.6 L252.5,989.6 L263.7,1004.9 L274.9,1001.6 L286.1,1009.3 L297.3,1008.8 L308.5,1015.8 L319.8,1026.8 L331.0,937.0 L342.2,974.6 L353.4,1003.8 L364.6,999.7 L375.9,992.3 L387.1,891.0 L398.3,892.1 L409.5,882.7 L420.7,871.2 L431.9,906.7 L443.2,903.6 L454.4,897.3 L465.6,896.2 L476.8,891.0 L488.0,886.8 L499.2,894.2 L510.5,902.5 L521.7,922.5 L532.9,924.6 L544.1,906.8 L555.3,921.4 L566.6,856.7 L577.8,865.0 L589.0,871.3 L600.2,927.7 L611.4,928.7 L622.6,875.5 L633.9,875.5 L645.1,882.8 L656.3,814.9 L667.5,778.3 L678.7,766.8 L690.0,749.1 L701.2,728.2 L712.4,763.7 L723.6,762.7 L734.8,762.7 L746.0,784.6 L757.3,786.7 L768.5,772.1 L779.7,775.2 L790.9,783.6 L802.1,785.6 L813.4,752.2 L824.6,765.8 L835.8,748.0 L847.0,768.9 L858.2,758.5 L869.4,768.9 L880.7,784.6 L891.9,755.3 L903.1,965.1 L914.3,976.6 L925.5,965.1 L936.8,988.0 L948.0,991.8 L959.2,966.1 L970.4,1012.8 L981.6,1003.3 L992.8,951.8 L1004.1,1009.9 L1015.3,1012.8 L1026.5,780.1 L1037.7,766.8 L1048.9,788.7 L1060.1,770.6 L1071.4,771.5" fill="none" stroke="#45a072" stroke-width="2.3" stroke-linejoin="miter" stroke-miterlimit="3"/>
<path d="M106.6,1177.4 v-5.5 M106.6,657.7 v5.5 M117.8,1177.4 v-11 M117.8,657.7 v11 M129.1,1177.4 v-5.5 M129.1,657.7 v5.5 M140.3,1177.4 v-11 M140.3,657.7 v11 M151.5,1177.4 v-5.5 M151.5,657.7 v5.5 M162.7,1177.4 v-11 M162.7,657.7 v11 M173.9,1177.4 v-5.5 M173.9,657.7 v5.5 M185.1,1177.4 v-11 M185.1,657.7 v11 M196.4,1177.4 v-5.5 M196.4,657.7 v5.5 M207.6,1177.4 v-11 M207.6,657.7 v11 M218.8,1177.4 v-5.5 M218.8,657.7 v5.5 M230.0,1177.4 v-11 M230.0,657.7 v11 M241.2,1177.4 v-5.5 M241.2,657.7 v5.5 M252.5,1177.4 v-11 M252.5,657.7 v11 M263.7,1177.4 v-5.5 M263.7,657.7 v5.5 M274.9,1177.4 v-11 M274.9,657.7 v11 M286.1,1177.4 v-5.5 M286.1,657.7 v5.5 M297.3,1177.4 v-11 M297.3,657.7 v11 M308.5,1177.4 v-5.5 M308.5,657.7 v5.5 M319.8,1177.4 v-11 M319.8,657.7 v11 M331.0,1177.4 v-5.5 M331.0,657.7 v5.5 M342.2,1177.4 v-11 M342.2,657.7 v11 M353.4,1177.4 v-5.5 M353.4,657.7 v5.5 M364.6,1177.4 v-11 M364.6,657.7 v11 M375.9,1177.4 v-5.5 M375.9,657.7 v5.5 M387.1,1177.4 v-11 M387.1,657.7 v11 M398.3,1177.4 v-5.5 M398.3,657.7 v5.5 M409.5,1177.4 v-11 M409.5,657.7 v11 M420.7,1177.4 v-5.5 M420.7,657.7 v5.5 M431.9,1177.4 v-11 M431.9,657.7 v11 M443.2,1177.4 v-5.5 M443.2,657.7 v5.5 M454.4,1177.4 v-11 M454.4,657.7 v11 M465.6,1177.4 v-5.5 M465.6,657.7 v5.5 M476.8,1177.4 v-11 M476.8,657.7 v11 M488.0,1177.4 v-5.5 M488.0,657.7 v5.5 M499.2,1177.4 v-11 M499.2,657.7 v11 M510.5,1177.4 v-5.5 M510.5,657.7 v5.5 M521.7,1177.4 v-11 M521.7,657.7 v11 M532.9,1177.4 v-5.5 M532.9,657.7 v5.5 M544.1,1177.4 v-11 M544.1,657.7 v11 M555.3,1177.4 v-5.5 M555.3,657.7 v5.5 M566.6,1177.4 v-11 M566.6,657.7 v11 M577.8,1177.4 v-5.5 M577.8,657.7 v5.5 M589.0,1177.4 v-11 M589.0,657.7 v11 M600.2,1177.4 v-5.5 M600.2,657.7 v5.5 M611.4,1177.4 v-11 M611.4,657.7 v11 M622.6,1177.4 v-5.5 M622.6,657.7 v5.5 M633.9,1177.4 v-11 M633.9,657.7 v11 M645.1,1177.4 v-5.5 M645.1,657.7 v5.5 M656.3,1177.4 v-11 M656.3,657.7 v11 M667.5,1177.4 v-5.5 M667.5,657.7 v5.5 M678.7,1177.4 v-11 M678.7,657.7 v11 M690.0,1177.4 v-5.5 M690.0,657.7 v5.5 M701.2,1177.4 v-11 M701.2,657.7 v11 M712.4,1177.4 v-5.5 M712.4,657.7 v5.5 M723.6,1177.4 v-11 M723.6,657.7 v11 M734.8,1177.4 v-5.5 M734.8,657.7 v5.5 M746.0,1177.4 v-11 M746.0,657.7 v11 M757.3,1177.4 v-5.5 M757.3,657.7 v5.5 M768.5,1177.4 v-11 M768.5,657.7 v11 M779.7,1177.4 v-5.5 M779.7,657.7 v5.5 M790.9,1177.4 v-11 M790.9,657.7 v11 M802.1,1177.4 v-5.5 M802.1,657.7 v5.5 M813.4,1177.4 v-11 M813.4,657.7 v11 M824.6,1177.4 v-5.5 M824.6,657.7 v5.5 M835.8,1177.4 v-11 M835.8,657.7 v11 M847.0,1177.4 v-5.5 M847.0,657.7 v5.5 M858.2,1177.4 v-11 M858.2,657.7 v11 M869.4,1177.4 v-5.5 M869.4,657.7 v5.5 M880.7,1177.4 v-11 M880.7,657.7 v11 M891.9,1177.4 v-5.5 M891.9,657.7 v5.5 M903.1,1177.4 v-11 M903.1,657.7 v11 M914.3,1177.4 v-5.5 M914.3,657.7 v5.5 M925.5,1177.4 v-11 M925.5,657.7 v11 M936.8,1177.4 v-5.5 M936.8,657.7 v5.5 M948.0,1177.4 v-11 M948.0,657.7 v11 M959.2,1177.4 v-5.5 M959.2,657.7 v5.5 M970.4,1177.4 v-11 M970.4,657.7 v11 M981.6,1177.4 v-5.5 M981.6,657.7 v5.5 M992.8,1177.4 v-11 M992.8,657.7 v11 M1004.1,1177.4 v-5.5 M1004.1,657.7 v5.5 M1015.3,1177.4 v-11 M1015.3,657.7 v11 M1026.5,1177.4 v-5.5 M1026.5,657.7 v5.5 M1037.7,1177.4 v-11 M1037.7,657.7 v11 M1048.9,1177.4 v-5.5 M1048.9,657.7 v5.5 M1060.1,1177.4 v-11 M1060.1,657.7 v11 M1071.4,1177.4 v-5.5 M1071.4,657.7 v5.5" stroke="#1a1a1a" stroke-width="2.1" fill="none"/>
<path d="M95.4,1177.4 h11 M1082.6,1177.4 h-11 M95.4,1134.1 h5.5 M1082.6,1134.1 h-5.5 M95.4,1090.8 h11 M1082.6,1090.8 h-11 M95.4,1047.5 h5.5 M1082.6,1047.5 h-5.5 M95.4,1004.2 h11 M1082.6,1004.2 h-11 M95.4,960.9 h5.5 M1082.6,960.9 h-5.5 M95.4,917.6 h11 M1082.6,917.6 h-11 M95.4,874.2 h5.5 M1082.6,874.2 h-5.5 M95.4,830.9 h11 M1082.6,830.9 h-11 M95.4,787.6 h5.5 M1082.6,787.6 h-5.5 M95.4,744.3 h11 M1082.6,744.3 h-11 M95.4,701.0 h5.5 M1082.6,701.0 h-5.5 M95.4,657.7 h11 M1082.6,657.7 h-11" stroke="#1a1a1a" stroke-width="2" fill="none"/>
<rect x="95.4" y="657.7" width="987.1999999999999" height="519.7" fill="none" stroke="#1a1a1a" stroke-width="2.2"/>
<text transform="translate(81.6,1184.1) scale(0.96,1)" text-anchor="end" font-size="25.3" fill="#222" class="b">400</text>
<text transform="translate(81.6,1097.5) scale(0.96,1)" text-anchor="end" font-size="25.3" fill="#222" class="b">402</text>
<text transform="translate(81.6,1010.9) scale(0.96,1)" text-anchor="end" font-size="25.3" fill="#222" class="b">404</text>
<text transform="translate(81.6,924.3) scale(0.96,1)" text-anchor="end" font-size="25.3" fill="#222" class="b">406</text>
<text transform="translate(81.6,837.6) scale(0.96,1)" text-anchor="end" font-size="25.3" fill="#222" class="b">408</text>
<text transform="translate(81.6,751.0) scale(0.96,1)" text-anchor="end" font-size="25.3" fill="#222" class="b">410</text>
<text transform="translate(81.6,664.4) scale(0.96,1)" text-anchor="end" font-size="25.3" fill="#222" class="b">412</text>
<text transform="translate(34.2,915.6) rotate(-90)" text-anchor="middle" font-size="26.8" fill="#222" class="b">XCO<tspan font-size="18.2" dy="5">2</tspan><tspan dy="-5">(ppm)</tspan></text>
<text x="136.3" y="1195.2" text-anchor="middle" font-size="16.5" fill="#333" class="b">Jun</text>
<text x="217.4" y="1195.2" text-anchor="middle" font-size="16.5" fill="#333" class="b">Jul</text>
<text x="346.1" y="1195.2" text-anchor="middle" font-size="16.5" fill="#333" class="b">Sep</text>
<text x="466.1" y="1195.2" text-anchor="middle" font-size="16.5" fill="#333" class="b">Oct</text>
<text x="578.7" y="1195.2" text-anchor="middle" font-size="16.5" fill="#333" class="b">Nov</text>
<text x="676.7" y="1195.2" text-anchor="middle" font-size="16.5" fill="#333" class="b">Jan</text>
<text x="758.6" y="1195.2" text-anchor="middle" font-size="16.5" fill="#333" class="b">Feb</text>
<text x="851.8" y="1195.2" text-anchor="middle" font-size="16.5" fill="#333" class="b">Mar</text>
<text x="908.2" y="1195.2" text-anchor="middle" font-size="16.5" fill="#333" class="b">Aug</text>
<text x="968" y="1195.2" text-anchor="middle" font-size="16.5" fill="#333" class="b">Sep</text>
<text x="1048" y="1195.2" text-anchor="middle" font-size="16.5" fill="#333" class="b">Oct</text>
<text x="582" y="1155.3" font-size="29" fill="#222" class="b">2018</text>
<text x="1010.2" y="1155.3" font-size="29" fill="#222" class="b">2019</text>
<text x="100" y="1155.5" font-size="29" fill="#222" class="b">(<tspan font-weight="bold">d</tspan>)<tspan dx="3.8">Garmisch</tspan></text>
<rect x="97" y="665.5" width="121.1" height="70.4" fill="#fff" stroke="#8a8a8a" stroke-width="1.6"/>
<line x1="98.5" y1="677.3" x2="136" y2="677.3" stroke="#dd4c4e" stroke-width="2.6"/>
<circle cx="117.5" cy="677.3" r="1.8" fill="#dd4c4e"/>
<text x="141" y="683.8" font-size="18" fill="#222" class="b">A Priori</text>
<line x1="98.5" y1="700.5" x2="136" y2="700.5" stroke="#336fcc" stroke-width="2.6"/>
<circle cx="117.5" cy="700.5" r="1.8" fill="#336fcc"/>
<text x="141" y="707.0" font-size="18" fill="#222" class="b">Retrieved</text>
<line x1="98.5" y1="723.6999999999999" x2="136" y2="723.6999999999999" stroke="#45a072" stroke-width="2.6"/>
<circle cx="117.5" cy="723.6999999999999" r="1.8" fill="#45a072"/>
<text x="141" y="730.1999999999999" font-size="18" fill="#222" class="b">Smoothed</text>
<text x="552" y="1255" text-anchor="middle" font-size="33" fill="#111">(<tspan font-weight="bold">d</tspan>)</text>
<line x1="170.7" y1="1288.6" x2="170.7" y2="1806" stroke="#484848" stroke-width="1.6" stroke-dasharray="7.5 6" stroke-dashoffset="11.1"/>
<line x1="315.0" y1="1288.6" x2="315.0" y2="1806" stroke="#484848" stroke-width="1.6" stroke-dasharray="7.5 6" stroke-dashoffset="11.1"/>
<line x1="437.1" y1="1288.6" x2="437.1" y2="1806" stroke="#484848" stroke-width="1.6" stroke-dasharray="7.5 6" stroke-dashoffset="11.1"/>
<line x1="503.7" y1="1288.6" x2="503.7" y2="1806" stroke="#484848" stroke-width="1.6" stroke-dasharray="7.5 6" stroke-dashoffset="11.1"/>
<line x1="537.0" y1="1288.6" x2="537.0" y2="1806" stroke="#484848" stroke-width="1.6" stroke-dasharray="7.5 6" stroke-dashoffset="11.1"/>
<line x1="636.9" y1="1288.6" x2="636.9" y2="1806" stroke="#484848" stroke-width="1.6" stroke-dasharray="7.5 6" stroke-dashoffset="11.1"/>
<line x1="736.8" y1="1288.6" x2="736.8" y2="1806" stroke="#484848" stroke-width="1.6" stroke-dasharray="7.5 6" stroke-dashoffset="11.1"/>
<line x1="803.4" y1="1288.6" x2="803.4" y2="1806" stroke="#484848" stroke-width="1.6" stroke-dasharray="7.5 6" stroke-dashoffset="11.1"/>
<line x1="858.9" y1="1288.6" x2="858.9" y2="1806" stroke="#484848" stroke-width="1.6" stroke-dasharray="7.5 6" stroke-dashoffset="11.1"/>
<line x1="914.4" y1="1288.6" x2="914.4" y2="1806" stroke="#484848" stroke-width="1.6" stroke-dasharray="7.5 6" stroke-dashoffset="11.1"/>
<line x1="969.9" y1="1288.6" x2="969.9" y2="1806" stroke="#484848" stroke-width="1.6" stroke-dasharray="7.5 6" stroke-dashoffset="11.1"/>
<line x1="1014.3" y1="1288.6" x2="1014.3" y2="1806" stroke="#484848" stroke-width="1.6" stroke-dasharray="7.5 6" stroke-dashoffset="11.1"/>
<line x1="570.3" y1="1288.6" x2="570.3" y2="1806" stroke="#111" stroke-width="2.2"/>
<path d="M93.0,1417.4 L104.1,1432.1 L115.2,1444.6 L126.3,1414.3 L137.4,1435.2 L148.5,1415.4 L159.6,1423.7 L170.7,1433.1 L181.8,1518.8 L192.9,1555.3 L204.0,1545.9 L215.1,1521.9 L226.2,1534.4 L237.3,1502.1 L248.4,1511.5 L259.5,1527.1 L270.6,1561.6 L281.7,1554.3 L292.8,1531.3 L303.9,1575.7 L315.0,1561.1 L326.1,1559.0 L337.2,1542.3 L348.3,1561.1 L359.4,1586.2 L370.5,1572.6 L381.6,1625.9 L392.7,1598.7 L403.8,1579.9 L414.9,1589.3 L426.0,1554.9 L437.1,1542.3 L448.2,1611.3 L459.3,1642.6 L470.4,1583.1 L481.5,1596.6 L492.6,1619.6 L503.7,1606.0 L514.8,1602.9 L525.9,1565.3 L537.0,1576.8 L548.1,1500.5 L559.2,1499.5 L570.3,1517.3 L581.4,1452.5 L592.5,1430.6 L603.6,1432.7 L614.7,1368.9 L625.8,1412.8 L636.9,1430.6 L648.0,1407.6 L659.1,1410.7 L670.2,1471.3 L681.3,1450.4 L692.4,1454.6 L703.5,1451.5 L714.6,1454.6 L725.7,1460.9 L736.8,1476.5 L747.9,1354.3 L759.0,1374.2 L770.1,1371.0 L781.2,1378.3 L792.3,1365.8 L803.4,1371.0 L814.5,1500.5 L825.6,1479.7 L836.7,1521.4 L847.8,1520.4 L858.9,1469.2 L870.0,1516.2 L881.1,1516.2 L892.2,1535.0 L903.3,1516.2 L914.4,1516.2 L925.5,1440.0 L936.6,1452.5 L947.7,1428.5 L958.8,1464.0 L969.9,1472.3 L981.0,1360.6 L992.1,1361.6 L1003.2,1344.9 L1014.3,1379.4 L1025.4,1363.7 L1036.5,1385.6 L1047.6,1377.3 L1058.7,1367.9 L1069.8,1358.5" fill="none" stroke="#dd4c4e" stroke-width="2.3" stroke-linejoin="miter" stroke-miterlimit="3"/>
<path d="M93.0,1417.4 L104.1,1432.1 L115.2,1444.6 L126.3,1410.1 L137.4,1437.3 L148.5,1421.6 L159.6,1428.9 L170.7,1437.3 L181.8,1518.8 L192.9,1553.2 L204.0,1544.9 L215.1,1520.9 L226.2,1533.4 L237.3,1498.9 L248.4,1511.5 L259.5,1527.1 L270.6,1561.6 L281.7,1555.3 L292.8,1533.4 L303.9,1572.6 L315.0,1564.3 L326.1,1560.1 L337.2,1540.2 L348.3,1565.3 L359.4,1588.3 L370.5,1575.7 L381.6,1619.6 L392.7,1593.5 L403.8,1586.2 L414.9,1591.4 L426.0,1555.9 L437.1,1545.5 L448.2,1615.4 L459.3,1644.7 L470.4,1581.0 L481.5,1594.5 L492.6,1623.8 L503.7,1608.1 L514.8,1605.0 L525.9,1564.3 L537.0,1575.7 L548.1,1501.6 L559.2,1503.7 L570.3,1515.2 L581.4,1481.7 L592.5,1421.2 L603.6,1402.4 L614.7,1371.0 L625.8,1402.4 L636.9,1431.6 L648.0,1408.6 L659.1,1412.8 L670.2,1453.5 L681.3,1455.6 L692.4,1465.0 L703.5,1453.5 L714.6,1453.5 L725.7,1467.1 L736.8,1446.2 L747.9,1356.4 L759.0,1376.2 L770.1,1372.1 L781.2,1380.4 L792.3,1367.9 L803.4,1375.2 L814.5,1506.8 L825.6,1473.4 L836.7,1525.6 L847.8,1521.4 L858.9,1473.4 L870.0,1521.4 L881.1,1521.4 L892.2,1535.0 L903.3,1516.2 L914.4,1520.4 L925.5,1433.7 L936.6,1450.4 L947.7,1433.7 L958.8,1462.9 L969.9,1454.6 L981.0,1360.6 L992.1,1361.6 L1003.2,1348.0 L1014.3,1384.6 L1025.4,1367.9 L1036.5,1387.7 L1047.6,1351.2 L1058.7,1376.2 L1069.8,1368.9" fill="none" stroke="#336fcc" stroke-width="2.3" stroke-linejoin="miter" stroke-miterlimit="3"/>
<path d="M93.0,1417.4 L104.1,1432.1 L115.2,1444.6 L126.3,1416.4 L137.4,1439.4 L148.5,1421.6 L159.6,1426.8 L170.7,1439.4 L181.8,1518.8 L192.9,1560.5 L204.0,1551.1 L215.1,1529.2 L226.2,1538.6 L237.3,1507.3 L248.4,1520.9 L259.5,1537.6 L270.6,1574.1 L281.7,1563.7 L292.8,1542.8 L303.9,1584.1 L315.0,1571.6 L326.1,1569.5 L337.2,1551.7 L348.3,1571.6 L359.4,1596.6 L370.5,1584.1 L381.6,1639.5 L392.7,1611.3 L403.8,1592.5 L414.9,1601.9 L426.0,1568.4 L437.1,1555.9 L448.2,1619.6 L459.3,1651.0 L470.4,1590.4 L481.5,1602.9 L492.6,1630.1 L503.7,1613.3 L514.8,1611.3 L525.9,1566.3 L537.0,1578.9 L548.1,1501.6 L559.2,1497.4 L570.3,1513.1 L581.4,1452.5 L592.5,1427.4 L603.6,1429.5 L614.7,1360.6 L625.8,1409.7 L636.9,1423.3 L648.0,1403.4 L659.1,1407.6 L670.2,1466.1 L681.3,1444.1 L692.4,1448.3 L703.5,1446.2 L714.6,1449.4 L725.7,1454.6 L736.8,1469.2 L747.9,1350.1 L759.0,1373.1 L770.1,1368.9 L781.2,1375.2 L792.3,1361.6 L803.4,1366.8 L814.5,1511.0 L825.6,1482.8 L836.7,1531.9 L847.8,1531.9 L858.9,1485.9 L870.0,1526.7 L881.1,1525.6 L892.2,1547.5 L903.3,1525.6 L914.4,1523.5 L925.5,1448.3 L936.6,1459.8 L947.7,1433.7 L958.8,1465.0 L969.9,1476.5 L981.0,1361.6 L992.1,1363.7 L1003.2,1344.9 L1014.3,1378.3 L1025.4,1362.7 L1036.5,1383.6 L1047.6,1374.2 L1058.7,1364.8 L1069.8,1354.3" fill="none" stroke="#45a072" stroke-width="2.3" stroke-linejoin="miter" stroke-miterlimit="3"/>
<path d="M104.2,1806 v-11 M104.2,1288.6 v11 M115.2,1806 v-5.5 M115.2,1288.6 v5.5 M126.2,1806 v-11 M126.2,1288.6 v11 M137.2,1806 v-5.5 M137.2,1288.6 v5.5 M148.2,1806 v-11 M148.2,1288.6 v11 M159.2,1806 v-5.5 M159.2,1288.6 v5.5 M170.3,1806 v-11 M170.3,1288.6 v11 M181.3,1806 v-5.5 M181.3,1288.6 v5.5 M192.3,1806 v-11 M192.3,1288.6 v11 M203.3,1806 v-5.5 M203.3,1288.6 v5.5 M214.3,1806 v-11 M214.3,1288.6 v11 M225.3,1806 v-5.5 M225.3,1288.6 v5.5 M236.3,1806 v-11 M236.3,1288.6 v11 M247.3,1806 v-5.5 M247.3,1288.6 v5.5 M258.3,1806 v-11 M258.3,1288.6 v11 M269.3,1806 v-5.5 M269.3,1288.6 v5.5 M280.3,1806 v-11 M280.3,1288.6 v11 M291.4,1806 v-5.5 M291.4,1288.6 v5.5 M302.4,1806 v-11 M302.4,1288.6 v11 M313.4,1806 v-5.5 M313.4,1288.6 v5.5 M324.4,1806 v-11 M324.4,1288.6 v11 M335.4,1806 v-5.5 M335.4,1288.6 v5.5 M346.4,1806 v-11 M346.4,1288.6 v11 M357.6,1806 v-5.5 M357.6,1288.6 v5.5 M368.8,1806 v-11 M368.8,1288.6 v11 M379.9,1806 v-5.5 M379.9,1288.6 v5.5 M391.1,1806 v-11 M391.1,1288.6 v11 M402.3,1806 v-5.5 M402.3,1288.6 v5.5 M413.4,1806 v-11 M413.4,1288.6 v11 M424.6,1806 v-5.5 M424.6,1288.6 v5.5 M435.8,1806 v-11 M435.8,1288.6 v11 M447.0,1806 v-5.5 M447.0,1288.6 v5.5 M458.1,1806 v-11 M458.1,1288.6 v11 M469.3,1806 v-5.5 M469.3,1288.6 v5.5 M480.5,1806 v-11 M480.5,1288.6 v11 M491.7,1806 v-5.5 M491.7,1288.6 v5.5 M502.9,1806 v-11 M502.9,1288.6 v11 M514.0,1806 v-5.5 M514.0,1288.6 v5.5 M525.2,1806 v-11 M525.2,1288.6 v11 M536.4,1806 v-5.5 M536.4,1288.6 v5.5 M547.5,1806 v-11 M547.5,1288.6 v11 M558.7,1806 v-5.5 M558.7,1288.6 v5.5 M569.9,1806 v-11 M569.9,1288.6 v11 M581.0,1806 v-5.5 M581.0,1288.6 v5.5 M592.1,1806 v-11 M592.1,1288.6 v11 M603.2,1806 v-5.5 M603.2,1288.6 v5.5 M614.2,1806 v-11 M614.2,1288.6 v11 M625.3,1806 v-5.5 M625.3,1288.6 v5.5 M636.4,1806 v-11 M636.4,1288.6 v11 M647.5,1806 v-5.5 M647.5,1288.6 v5.5 M658.6,1806 v-11 M658.6,1288.6 v11 M669.7,1806 v-5.5 M669.7,1288.6 v5.5 M680.8,1806 v-11 M680.8,1288.6 v11 M691.9,1806 v-5.5 M691.9,1288.6 v5.5 M703.0,1806 v-11 M703.0,1288.6 v11 M714.0,1806 v-5.5 M714.0,1288.6 v5.5 M725.1,1806 v-11 M725.1,1288.6 v11 M736.2,1806 v-5.5 M736.2,1288.6 v5.5 M747.3,1806 v-11 M747.3,1288.6 v11 M758.4,1806 v-5.5 M758.4,1288.6 v5.5 M769.5,1806 v-11 M769.5,1288.6 v11 M780.6,1806 v-5.5 M780.6,1288.6 v5.5 M791.6,1806 v-11 M791.6,1288.6 v11 M802.7,1806 v-5.5 M802.7,1288.6 v5.5 M813.8,1806 v-11 M813.8,1288.6 v11 M824.9,1806 v-5.5 M824.9,1288.6 v5.5 M836.0,1806 v-11 M836.0,1288.6 v11 M847.1,1806 v-5.5 M847.1,1288.6 v5.5 M858.3,1806 v-11 M858.3,1288.6 v11 M869.5,1806 v-5.5 M869.5,1288.6 v5.5 M880.6,1806 v-11 M880.6,1288.6 v11 M891.8,1806 v-5.5 M891.8,1288.6 v5.5 M902.9,1806 v-11 M902.9,1288.6 v11 M914.0,1806 v-5.5 M914.0,1288.6 v5.5 M925.2,1806 v-11 M925.2,1288.6 v11 M936.4,1806 v-5.5 M936.4,1288.6 v5.5 M947.5,1806 v-11 M947.5,1288.6 v11 M958.6,1806 v-5.5 M958.6,1288.6 v5.5 M969.8,1806 v-11 M969.8,1288.6 v11 M981.0,1806 v-5.5 M981.0,1288.6 v5.5 M992.1,1806 v-11 M992.1,1288.6 v11 M1003.2,1806 v-5.5 M1003.2,1288.6 v5.5 M1014.4,1806 v-11 M1014.4,1288.6 v11 M1025.5,1806 v-5.5 M1025.5,1288.6 v5.5 M1036.7,1806 v-11 M1036.7,1288.6 v11 M1047.8,1806 v-5.5 M1047.8,1288.6 v5.5 M1059.0,1806 v-11 M1059.0,1288.6 v11 M1070.1,1806 v-5.5 M1070.1,1288.6 v5.5" stroke="#1a1a1a" stroke-width="2.1" fill="none"/>
<path d="M93.9,1806.0 h11 M1081.3,1806.0 h-11 M93.9,1754.3 h5.5 M1081.3,1754.3 h-5.5 M93.9,1702.5 h11 M1081.3,1702.5 h-11 M93.9,1650.8 h5.5 M1081.3,1650.8 h-5.5 M93.9,1599.0 h11 M1081.3,1599.0 h-11 M93.9,1547.3 h5.5 M1081.3,1547.3 h-5.5 M93.9,1495.6 h11 M1081.3,1495.6 h-11 M93.9,1443.8 h5.5 M1081.3,1443.8 h-5.5 M93.9,1392.1 h11 M1081.3,1392.1 h-11 M93.9,1340.3 h5.5 M1081.3,1340.3 h-5.5 M93.9,1288.6 h11 M1081.3,1288.6 h-11" stroke="#1a1a1a" stroke-width="2" fill="none"/>
<rect x="93.9" y="1288.6" width="987.4" height="517.4000000000001" fill="none" stroke="#1a1a1a" stroke-width="2.2"/>
<text transform="translate(80.2,1813.0) scale(0.96,1)" text-anchor="end" font-size="25.3" fill="#222" class="b">402</text>
<text transform="translate(80.2,1709.5) scale(0.96,1)" text-anchor="end" font-size="25.3" fill="#222" class="b">404</text>
<text transform="translate(80.2,1606.0) scale(0.96,1)" text-anchor="end" font-size="25.3" fill="#222" class="b">406</text>
<text transform="translate(80.2,1502.6) scale(0.96,1)" text-anchor="end" font-size="25.3" fill="#222" class="b">408</text>
<text transform="translate(80.2,1399.1) scale(0.96,1)" text-anchor="end" font-size="25.3" fill="#222" class="b">410</text>
<text transform="translate(80.2,1295.6) scale(0.96,1)" text-anchor="end" font-size="25.3" fill="#222" class="b">412</text>
<text transform="translate(34.4,1547.5) rotate(-90)" text-anchor="middle" font-size="26.8" fill="#222" class="b">XCO<tspan font-size="18.2" dy="5">2</tspan><tspan dy="-5">(ppm)</tspan></text>
<text x="132.6" y="1826" text-anchor="middle" font-size="16.5" fill="#333" class="b">Jun</text>
<text x="245.2" y="1826" text-anchor="middle" font-size="16.5" fill="#333" class="b">Jul</text>
<text x="374.9" y="1826" text-anchor="middle" font-size="16.5" fill="#333" class="b">Aug</text>
<text x="469.8" y="1826" text-anchor="middle" font-size="16.5" fill="#333" class="b">Sep</text>
<text x="521.7" y="1826" text-anchor="middle" font-size="16.5" fill="#333" class="b">Nov</text>
<text x="554.6" y="1826" text-anchor="middle" font-size="16.5" fill="#333" class="b">Dec</text>
<text x="603.2" y="1826" text-anchor="middle" font-size="16.5" fill="#333" class="b">Jan</text>
<text x="690" y="1826" text-anchor="middle" font-size="16.5" fill="#333" class="b">Feb</text>
<text x="770.9" y="1826" text-anchor="middle" font-size="16.5" fill="#333" class="b">Mar</text>
<text x="829.7" y="1826" text-anchor="middle" font-size="16.5" fill="#333" class="b">Aug</text>
<text x="882.7" y="1826" text-anchor="middle" font-size="16.5" fill="#333" class="b">Sep</text>
<text x="945" y="1826" text-anchor="middle" font-size="16.5" fill="#333" class="b">Oct</text>
<text x="992.6" y="1826" text-anchor="middle" font-size="16.5" fill="#333" class="b">Nov</text>
<text x="1048" y="1826" text-anchor="middle" font-size="16.5" fill="#333" class="b">Dec</text>
<text x="506.9" y="1787" font-size="29" fill="#222" class="b">2018</text>
<text x="1011.2" y="1787" font-size="29" fill="#222" class="b">2019</text>
<text x="100.9" y="1786.5" font-size="29" fill="#222" class="b">(<tspan font-weight="bold">e</tspan>)<tspan dx="-1">Izana</tspan></text>
<rect x="106.9" y="1296" width="120.9" height="70.9" fill="#fff" stroke="#8a8a8a" stroke-width="1.6"/>
<line x1="108.4" y1="1308.4" x2="145.9" y2="1308.4" stroke="#dd4c4e" stroke-width="2.6"/>
<circle cx="127.4" cy="1308.4" r="1.8" fill="#dd4c4e"/>
<text x="150.9" y="1314.9" font-size="18" fill="#222" class="b">A Priori</text>
<line x1="108.4" y1="1330.95" x2="145.9" y2="1330.95" stroke="#336fcc" stroke-width="2.6"/>
<circle cx="127.4" cy="1330.95" r="1.8" fill="#336fcc"/>
<text x="150.9" y="1337.45" font-size="18" fill="#222" class="b">Retrieved</text>
<line x1="108.4" y1="1353.5" x2="145.9" y2="1353.5" stroke="#45a072" stroke-width="2.6"/>
<circle cx="127.4" cy="1353.5" r="1.8" fill="#45a072"/>
<text x="150.9" y="1360.0" font-size="18" fill="#222" class="b">Smoothed</text>
<text x="552" y="1886.7" text-anchor="middle" font-size="33" fill="#111">(<tspan font-weight="bold">e</tspan>)</text>
</g>
</svg>
</body></html>
